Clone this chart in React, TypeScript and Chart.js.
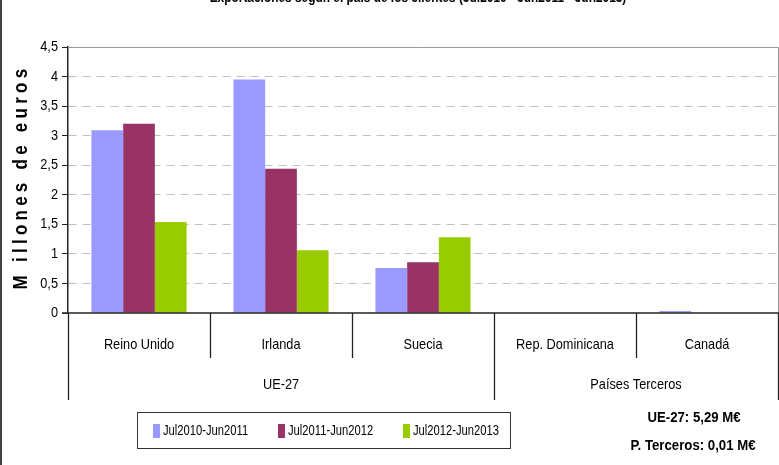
import React, { useEffect, useRef } from "react";
import { Chart, registerables } from "chart.js";

Chart.register(...registerables);

const chartTitle = "Exportaciones según el país de los clientes (Jul2010 - Jun2011 - Jun2013)";
const yAxisTitle = "M illones de euros";
const categories = ["Reino Unido", "Irlanda", "Suecia", "Rep. Dominicana", "Canadá"];
const groupLabels = ["UE-27", "Países Terceros"];
const groupSizes = [3, 2];
const seriesLabels = ["Jul2010-Jun2011", "Jul2011-Jun2012", "Jul2012-Jun2013"];
const seriesColors = ["#9999FF", "#993366", "#99CC00"];
const series2010 = [3.09, 3.95, 0.76, 0, 0.035];
const series2011 = [3.2, 2.44, 0.86, 0, 0];
const series2012 = [1.54, 1.06, 1.28, 0, 0];
const yMin = 0;
const yMax = 4.5;
const yStep = 0.5;
const totals = ["UE-27: 5,29 M€", "P. Terceros: 0,01 M€"];

const FAMILY = "'Liberation Sans', Arial, sans-serif";

function narrowText(
  ctx: CanvasRenderingContext2D,
  text: string,
  x: number,
  y: number,
  sx: number
) {
  ctx.save();
  ctx.translate(x, y);
  ctx.scale(sx, 1);
  ctx.fillText(text, 0, 0);
  ctx.restore();
}

const decor = {
  id: "decor",
  afterDraw(chart: any) {
    const ctx = chart.ctx as CanvasRenderingContext2D;
    const { left, right, top, bottom } = chart.chartArea;
    const xs = chart.scales.x;
    const ys = chart.scales.y;
    const n = categories.length;
    const w = (right - left) / n;
    ctx.save();

    // outer left frame
    ctx.strokeStyle = "#000";
    ctx.lineWidth = 1.5;
    ctx.beginPath();
    ctx.moveTo(1, 0);
    ctx.lineTo(1, chart.height);
    ctx.stroke();

    // title (clipped at top)
    ctx.fillStyle = "#000";
    ctx.font = `bold 14px ${FAMILY}`;
    ctx.textAlign = "center";
    ctx.textBaseline = "alphabetic";
    narrowText(ctx, chartTitle, (left + right) / 2 - 5, 2, 0.85);

    // y tick labels
    ctx.font = `15px ${FAMILY}`;
    ctx.textAlign = "right";
    ctx.textBaseline = "middle";
    ys.ticks.forEach((t: any) => {
      const label = String(t.value).replace(".", ",");
      narrowText(ctx, label, left - 10, ys.getPixelForValue(t.value), 0.85);
    });

    // plot frame top & right
    ctx.lineWidth = 1;
    ctx.strokeStyle = "#9a9a9a";
    ctx.beginPath();
    ctx.moveTo(left, Math.round(top) + 0.5);
    ctx.lineTo(right + 0.5, Math.round(top) + 0.5);
    ctx.lineTo(right + 0.5, bottom);
    ctx.stroke();

    // x axis line
    ctx.strokeStyle = "#222";
    ctx.lineWidth = 1.5;
    ctx.beginPath();
    ctx.moveTo(left - 6, bottom);
    ctx.lineTo(right + 1, bottom);
    ctx.stroke();

    // separators
    const groupEdges = new Set<number>();
    let acc = 0;
    groupEdges.add(0);
    groupSizes.forEach((s) => {
      acc += s;
      groupEdges.add(acc);
    });
    ctx.strokeStyle = "#222";
    ctx.lineWidth = 1.3;
    for (let i = 0; i <= n; i++) {
      const x = i < n ? xs.getPixelForValue(i) - w / 2 : xs.getPixelForValue(n - 1) + w / 2;
      const y2 = groupEdges.has(i) ? bottom + 87 : bottom + 45;
      ctx.beginPath();
      ctx.moveTo(Math.round(x) + 0.5, bottom);
      ctx.lineTo(Math.round(x) + 0.5, y2);
      ctx.stroke();
    }

    // category labels
    ctx.fillStyle = "#000";
    ctx.font = `15px ${FAMILY}`;
    ctx.textAlign = "center";
    ctx.textBaseline = "middle";
    categories.forEach((c, i) => {
      narrowText(ctx, c, xs.getPixelForValue(i), bottom + 32, 0.85);
    });

    // group labels
    let start = 0;
    groupLabels.forEach((g, gi) => {
      const end = start + groupSizes[gi] - 1;
      const cx = (xs.getPixelForValue(start) + xs.getPixelForValue(end)) / 2;
      narrowText(ctx, g, cx, bottom + 72, 0.85);
      start += groupSizes[gi];
    });

    // y axis title
    ctx.save();
    ctx.translate(21, (top + bottom) / 2 - 3);
    ctx.rotate(-Math.PI / 2);
    ctx.font = `bold 20px ${FAMILY}`;
    (ctx as any).letterSpacing = "5px";
    ctx.textAlign = "center";
    ctx.textBaseline = "middle";
    ctx.scale(0.85, 1);
    ctx.fillText(yAxisTitle, 0, 0);
    ctx.restore();

    // legend
    ctx.strokeStyle = "#333";
    ctx.lineWidth = 1;
    ctx.strokeRect(137.5, 412.5, 373, 36);
    const legendX = [153, 278, 403];
    ctx.font = `14px ${FAMILY}`;
    ctx.textAlign = "left";
    ctx.textBaseline = "middle";
    chart.data.datasets.forEach((ds: any, i: number) => {
      ctx.fillStyle = ds.backgroundColor;
      ctx.fillRect(legendX[i], 424, 7, 14);
      ctx.fillStyle = "#000";
      narrowText(ctx, ds.label, legendX[i] + 10, 431, 0.8);
    });

    // totals
    ctx.font = `bold 15px ${FAMILY}`;
    ctx.textAlign = "center";
    narrowText(ctx, totals[0], 694, 418, 0.88);
    narrowText(ctx, totals[1], 693, 446, 0.88);

    ctx.restore();
  },
};

export default function App() {
  const ref = useRef<HTMLCanvasElement>(null);
  useEffect(() => {
    document.body.style.margin = "0";
    if (!ref.current) return;
    const chart = new Chart(ref.current, {
      type: "bar",
      data: {
        labels: categories,
        datasets: [series2010, series2011, series2012].map((d, i) => ({
          label: seriesLabels[i],
          data: d,
          backgroundColor: seriesColors[i],
          borderWidth: 0,
          categoryPercentage: 0.67,
          barPercentage: 1,
        })),
      },
      options: {
        responsive: false,
        animation: false,
        layout: { padding: { top: 47, right: 1, bottom: 152, left: 0 } },
        plugins: {
          legend: { display: false },
          tooltip: { enabled: false },
          title: { display: false },
        },
        scales: {
          x: { display: false },
          y: {
            min: yMin,
            max: yMax,
            afterFit: (s: any) => {
              s.width = 68;
            },
            ticks: {
              stepSize: yStep,
              color: "rgba(0,0,0,0)",
              padding: 4,
              font: { family: FAMILY, size: 14 },
            },
            grid: {
              color: (c: any) =>
                c.tick && (c.tick.value === yMin || c.tick.value === yMax) ? "rgba(0,0,0,0)" : "#c0c0c0",
              tickColor: "#222",
              tickLength: 6,
              tickBorderDash: [],
            },
            border: { display: true, color: "#222", width: 1.5, dash: [8, 6] },
          },
        },
      },
      plugins: [decor],
    });
    return () => chart.destroy();
  }, []);
  return (
    <div style={{ width: 779, height: 465 }}>
      <canvas ref={ref} width={779} height={465} />
    </div>
  );
}
